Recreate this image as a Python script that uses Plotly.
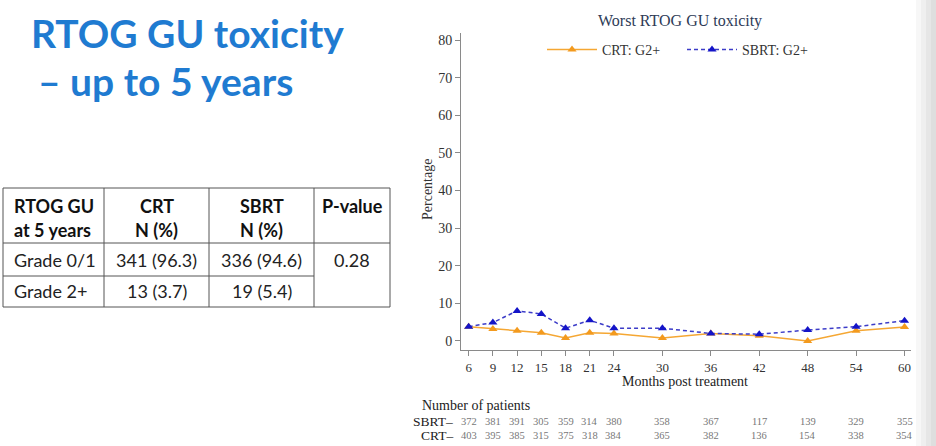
import plotly.graph_objects as go

# ---------------- data ----------------
months = [6, 9, 12, 15, 18, 21, 24, 30, 36, 42, 48, 54, 60]
crt_g2 = [3.8, 3.2, 2.7, 2.2, 0.8, 2.2, 2.0, 0.8, 2.0, 1.4, 0.0, 2.7, 3.7]
sbrt_g2 = [3.8, 4.9, 8.0, 7.2, 3.4, 5.5, 3.4, 3.4, 2.0, 1.8, 2.9, 3.8, 5.4]
sbrt_n = [372, 381, 391, 305, 359, 314, 380, 358, 367, 117, 139, 329, 355]
crt_n = [403, 395, 385, 315, 375, 318, 384, 365, 382, 136, 154, 338, 354]
y_ticks = [0, 10, 20, 30, 40, 50, 60, 70, 80]

table_header = [["RTOG GU", "at 5 years"], ["CRT", "N (%)"], ["SBRT", "N (%)"], ["P-value"]]
table_rows = ["Grade 0/1", "Grade 2+"]
table_crt = ["341 (96.3)", "13 (3.7)"]
table_sbrt = ["336 (94.6)", "19 (5.4)"]
table_p = "0.28"

slide_title = ["RTOG GU toxicity", "\u2013 up to 5 years"]
chart_title = "Worst RTOG GU toxicity"

# ---------------- helpers (pixel -> paper) ----------------
W, H = 936, 446
def px(x):
    return x / W
def py(y):
    return 1 - y / H

SERIF = "Liberation Serif"
SANS = "Lato"
BLUE_T = "#1F7BD1"

fig = go.Figure()

fig.add_trace(go.Scatter(
    x=months, y=crt_g2, name="CRT: G2+", mode="lines+markers",
    line=dict(color="#F5A733", width=1.5),
    marker=dict(symbol="triangle-up", size=8, color="#F39A1E"),
))
fig.add_trace(go.Scatter(
    x=months, y=sbrt_g2, name="SBRT: G2+", mode="lines+markers",
    line=dict(color="#3C3CC8", width=1.5, dash="4px,3px"),
    marker=dict(symbol="triangle-up", size=8, color="#1414C8"),
))

annotations = []
shapes = []

def txt(x, y, text, size, color, family=SERIF, xanchor="center", weight="normal", xref="paper", **kw):
    annotations.append(dict(x=x, y=py(y), xref=xref, yref="paper", text=text,
                            xanchor=xanchor, yanchor="middle", showarrow=False,
                            font=dict(family=family, size=size, color=color, weight=weight), **kw))

# chart title
txt(px(680), 21, chart_title, 16, "#2E3B57")
# axis titles
txt(px(427), 190, "Percentage", 14, "#333", textangle=-90)
txt(px(685), 381, "Months post treatment", 14, "#222")

# number of patients
txt(px(420), 405, "Number of patients", 14, "#222", xanchor="left")
for lab, vals, yy in [("SBRT\u2013", sbrt_n, 421), ("CRT\u2013", crt_n, 435)]:
    txt(px(455), yy, lab, 13.5, "#222", xanchor="right")
    for m, v in zip(months, vals):
        txt(m, yy, str(v), 10.5, "#777", xref="x")

# slide title
txt(px(29), 33, slide_title[0], 39, BLUE_T, family=SANS, xanchor="left", weight="bold")
txt(px(36), 81, slide_title[1], 39, BLUE_T, family=SANS, xanchor="left", weight="bold")

# table grid
line_c = "#555555"
cols = [3, 104, 209, 314, 390]
top, hdr, r1, bot = 188, 243, 276, 307
for c in cols:
    shapes.append(dict(type="line", xref="paper", yref="paper", x0=px(c), x1=px(c),
                       y0=py(top), y1=py(bot), line=dict(color=line_c, width=1)))
for yy, x1 in [(top, 390), (hdr, 390), (r1, 314), (bot, 390)]:
    shapes.append(dict(type="line", xref="paper", yref="paper", x0=px(3), x1=px(x1),
                       y0=py(yy), y1=py(yy), line=dict(color=line_c, width=1)))

centers = [None, 156.5, 261.5, 352]
TF = 18
for i, hl in enumerate(table_header):
    for j, t in enumerate(hl):
        yy = 206 + j * 24
        if i == 0:
            txt(px(12), yy, t, TF, "#111", family=SANS, xanchor="left", weight="bold")
        else:
            txt(px(centers[i]), yy, t, TF, "#111", family=SANS, weight="bold")
for k, yy in enumerate([260, 291]):
    txt(px(12), yy, table_rows[k], TF, "#222", family=SANS, xanchor="left")
    txt(px(centers[1]), yy, table_crt[k], TF, "#222", family=SANS)
    txt(px(centers[2]), yy, table_sbrt[k], TF, "#222", family=SANS)
txt(px(centers[3]), 260, table_p, TF, "#222", family=SANS)

# right-edge slide shading
for i, g in enumerate(["#f7f7f7", "#efefef", "#e6e6e6", "#dedede"]):
    shapes.append(dict(type="rect", xref="paper", yref="paper", x0=px(916 + i * 5), x1=1,
                       y0=0, y1=1, fillcolor=g, line=dict(width=0), layer="below"))

axis_common = dict(showline=True, linecolor="#8a8a8a", linewidth=1, ticks="outside",
                   ticklen=5, tickcolor="#8a8a8a", showgrid=False, zeroline=False)

fig.update_layout(
    width=W, height=H, autosize=False,
    margin=dict(l=0, r=0, t=0, b=0),
    paper_bgcolor="white", plot_bgcolor="rgba(0,0,0,0)",
    xaxis=dict(domain=[px(461), px(911)], range=[5.05, 60.8], tickvals=months,
               tickfont=dict(family=SERIF, size=13, color="#333"), **axis_common),
    yaxis=dict(domain=[py(350), py(33)], range=[-2.4, 81.9], tickvals=y_ticks,
               tickfont=dict(family=SERIF, size=14, color="#333"), **axis_common),
    showlegend=True,
    legend=dict(orientation="h", x=px(542), y=py(34), xanchor="left", yanchor="top",
                font=dict(family=SERIF, size=14, color="#333"), bgcolor="rgba(0,0,0,0)",
                itemwidth=50, entrywidth=75, entrywidthmode="pixels"),
    annotations=annotations,
    shapes=shapes,
)

fig.write_html("out.html", config={"displayModeBar": False},
               post_script="document.body.style.margin='0';document.body.style.overflow='hidden';")
